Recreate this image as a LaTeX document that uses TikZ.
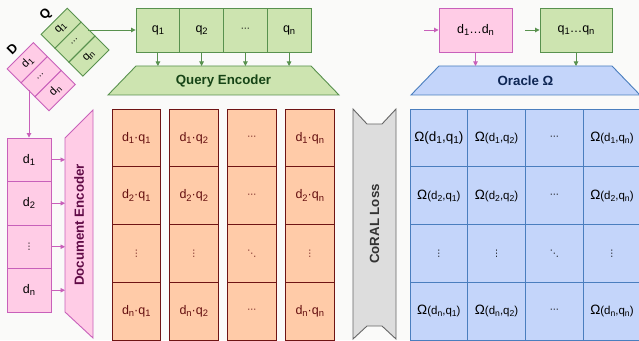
\documentclass[tikz,border=0pt]{standalone}
\usepackage{fontspec}
\usepackage{graphicx}
\setmainfont{Liberation Sans}
\newfontfamily\djv{DejaVu Sans}
\usetikzlibrary{arrows.meta}
\definecolor{bgc}{RGB}{250,250,249}
\definecolor{gfill}{RGB}{205,228,176}
\definecolor{gdraw}{RGB}{88,145,78}
\definecolor{gtext}{RGB}{22,68,22}
\definecolor{pfill}{RGB}{255,204,230}
\definecolor{pdraw}{RGB}{200,96,186}
\definecolor{ptext}{RGB}{96,10,70}
\definecolor{ofill}{RGB}{255,203,168}
\definecolor{odraw}{RGB}{111,20,20}
\definecolor{otext}{RGB}{100,15,15}
\definecolor{bfill}{RGB}{196,213,250}
\definecolor{bdraw}{RGB}{74,126,190}
\definecolor{btext}{RGB}{14,38,84}
\definecolor{lfill}{RGB}{221,221,221}
\definecolor{ldraw}{RGB}{102,102,102}
\definecolor{ltext}{RGB}{51,51,51}
\newcommand\sbs[1]{\raisebox{-0.35ex}{\scalebox{0.75}{#1}}}
\newcommand\hdots{{\djv\fontsize{9}{10}\selectfont ⋯}}
\newcommand\vdts{{\djv\fontsize{9}{10}\selectfont ⋮}}
\newcommand\ddts{{\djv\fontsize{9}{10}\selectfont ⋱}}
\newcommand\om[2]{{\fontsize{13.5}{15}\selectfont Ω}(d\sbs{#1},q\sbs{#2})}
\tikzset{
  cellbase/.style={draw, rectangle, inner sep=0pt, line width=0.9pt, font=\fontsize{12.5}{14}\selectfont},
  gcell/.style={cellbase, draw=gdraw, fill=gfill, text=black, minimum width=43.75pt, minimum height=44pt},
  gscell/.style={cellbase, draw=gdraw, fill=gfill, text=black, minimum width=37pt, minimum height=19.7pt, font=\fontsize{11.5}{12}\selectfont},
  pscell/.style={cellbase, draw=pdraw, fill=pfill, text=black, minimum width=37pt, minimum height=19.7pt, font=\fontsize{11.5}{12}\selectfont},
  pcell/.style={cellbase, draw=pdraw, fill=pfill, text=black, minimum width=44pt, minimum height=43.5pt},
  ocell/.style={cellbase, draw=odraw, fill=ofill, text=otext, minimum width=48.5pt, minimum height=57.75pt},
  bcell/.style={cellbase, draw=bdraw, fill=bfill, text=black, minimum width=57.7pt, minimum height=57.75pt, font=\fontsize{11.5}{13}\selectfont},
  gbox/.style={cellbase, draw=gdraw, fill=gfill, text=black, minimum width=72pt, minimum height=44pt},
  pbox/.style={cellbase, draw=pdraw, fill=pfill, text=black, minimum width=73pt, minimum height=44pt},
  gshape/.style={draw=gdraw, fill=gfill, line width=0.9pt},
  pshape/.style={draw=pdraw, fill=pfill, line width=0.9pt},
  bshape/.style={draw=bdraw, fill=bfill, line width=0.9pt},
  lshape/.style={draw=ldraw, fill=lfill, line width=0.9pt},
  ttl/.style={inner sep=0pt, font=\fontsize{13.3}{15}\selectfont\bfseries},
  strlbl/.style={inner sep=0pt, font=\fontsize{13}{15}\selectfont\bfseries, text=black},
  garrow/.style={draw=gdraw, line width=0.9pt, -{Triangle[length=4.5pt,width=4.5pt]}},
  parrow/.style={draw=pdraw, line width=0.9pt, -{Triangle[length=4.5pt,width=4.5pt]}},
}
\begin{document}
\begin{tikzpicture}[x=1pt,y=1pt]
\fill[bgc] (0,0) rectangle (639,340);
\useasboundingbox (0,0) rectangle (639,340);

% ---- query row
\node[gcell] (q1) at (157.9,310) {q\sbs{1}};
\node[gcell] (q2) at (201.6,310) {q\sbs{2}};
\node[gcell] (q3) at (245.4,310) {\hdots};
\node[gcell] (q4) at (289.1,310) {q\sbs{n}};
\draw[gshape] (136,274) -- (311,274) -- (339,245) -- (108,245) -- cycle;
\node[ttl, text=gtext] (qenc) at (223.5,259) {Query Encoder};
\coordinate (qencTop) at (223.5,274);
\foreach \n in {q1,q2,q3,q4} \draw[garrow] (\n.south) -- (\n.south |- qencTop);

% ---- Q strip
\begin{scope}[shift={(75,297.8)}, rotate=45, transform shape]
  \node[gscell] (Qa) at (0,19.7) {q\sbs{1}};
  \node[gscell] (Qb) at (0,0) {\hdots};
  \node[gscell] (Qc) at (0,-19.7) {q\sbs{n}};
  \node[strlbl] (Qlbl) at (-1,40) {Q};
\end{scope}
\draw[garrow] (Qb.east |- q1.west) -- (q1.west);

% ---- D strip
\begin{scope}[shift={(41.2,263.3)}, rotate=45, transform shape]
  \node[pscell] (Da) at (0,19.7) {d\sbs{1}};
  \node[pscell] (Db) at (0,0) {\hdots};
  \node[pscell] (Dc) at (0,-19.7) {d\sbs{n}};
  \node[strlbl] (Dlbl) at (-1,40) {D};
\end{scope}

% ---- document column
\node[pcell] (d1) at (29,180.25) {d\sbs{1}};
\node[pcell] (d2) at (29,136.75) {d\sbs{2}};
\node[pcell] (d3) at (29,93.25) {\vdts};
\node[pcell] (d4) at (29,49.75) {d\sbs{n}};
\draw[parrow] (d1.north |- Db.west) -- (d1.north);
\draw[pshape] (65,202) -- (93,230) -- (93,2) -- (65,28) -- cycle;
\node[ttl, text=ptext, rotate=90] (denc) at (79,115) {Document Encoder};
\coordinate (dencL) at (65,115);
\foreach \n in {d1,d2,d3,d4} \draw[parrow] (\n.east) -- (\n.east -| dencL);

% ---- dot-product matrix
\node[ocell] (o11) at (136.25,202.1) {d\sbs{1}·q\sbs{1}};
\node[ocell] (o21) at (136.25,144.4) {d\sbs{2}·q\sbs{1}};
\node[ocell] (o31) at (136.25,86.6) {\vdts};
\node[ocell] (o41) at (136.25,28.9) {d\sbs{n}·q\sbs{1}};
\node[ocell] (o12) at (193.75,202.1) {d\sbs{1}·q\sbs{2}};
\node[ocell] (o22) at (193.75,144.4) {d\sbs{2}·q\sbs{2}};
\node[ocell] (o32) at (193.75,86.6) {\vdts};
\node[ocell] (o42) at (193.75,28.9) {d\sbs{n}·q\sbs{2}};
\node[ocell] (o13) at (251.75,202.1) {\hdots};
\node[ocell] (o23) at (251.75,144.4) {\hdots};
\node[ocell] (o33) at (251.75,86.6) {\ddts};
\node[ocell] (o43) at (251.75,28.9) {\hdots};
\node[ocell] (o14) at (309.75,202.1) {d\sbs{1}·q\sbs{n}};
\node[ocell] (o24) at (309.75,144.4) {d\sbs{2}·q\sbs{n}};
\node[ocell] (o34) at (309.75,86.6) {\vdts};
\node[ocell] (o44) at (309.75,28.9) {d\sbs{n}·q\sbs{n}};

% ---- CoRAL loss
\draw[lshape] (353,231) -- (367,216) -- (382,216) -- (396,231) -- (396,1) -- (382,14) -- (367,14) -- (353,1) -- cycle;
\node[ttl, text=ltext, rotate=90] (loss) at (374.5,116) {CoRAL Loss};

% ---- oracle inputs
\coordinate (dallIn) at (424,310);
\coordinate (qallIn) at (525,310);
\node[pbox] (dall) at (475.5,310) {d\sbs{1}…d\sbs{n}};
\node[gbox] (qall) at (576,310) {q\sbs{1}…q\sbs{n}};
\draw[parrow] (dallIn) -- (dall.west);
\draw[garrow] (qallIn) -- (qall.west);
\draw[bshape] (439,274) -- (612,274) -- (640,245) -- (411,245) -- cycle;
\node[ttl, text=btext] (orc) at (525.5,259) {Oracle Ω};
\coordinate (orcTop) at (525.5,274);
\draw[parrow] (dall.south) -- (dall.south |- orcTop);
\draw[garrow] (qall.south) -- (qall.south |- orcTop);

% ---- oracle matrix
\node[bcell, font=\fontsize{13.5}{15}\selectfont] (b11) at (438.85,202.1) {Ω(d\sbs{1},q\sbs{1})};
\node[bcell] (b21) at (438.85,144.4) {\om{2}{1}};
\node[bcell] (b31) at (438.85,86.6) {\vdts};
\node[bcell] (b41) at (438.85,28.9) {\om{n}{1}};
\node[bcell] (b12) at (496.55,202.1) {\om{1}{2}};
\node[bcell] (b22) at (496.55,144.4) {\om{2}{2}};
\node[bcell] (b32) at (496.55,86.6) {\vdts};
\node[bcell] (b42) at (496.55,28.9) {\om{n}{2}};
\node[bcell] (b13) at (554.25,202.1) {\hdots};
\node[bcell] (b23) at (554.25,144.4) {\hdots};
\node[bcell] (b33) at (554.25,86.6) {\ddts};
\node[bcell] (b43) at (554.25,28.9) {\hdots};
\node[bcell] (b14) at (611.95,202.1) {\om{1}{n}};
\node[bcell] (b24) at (611.95,144.4) {\om{2}{n}};
\node[bcell] (b34) at (611.95,86.6) {\vdts};
\node[bcell] (b44) at (611.95,28.9) {\om{n}{n}};
\end{tikzpicture}
\end{document}
